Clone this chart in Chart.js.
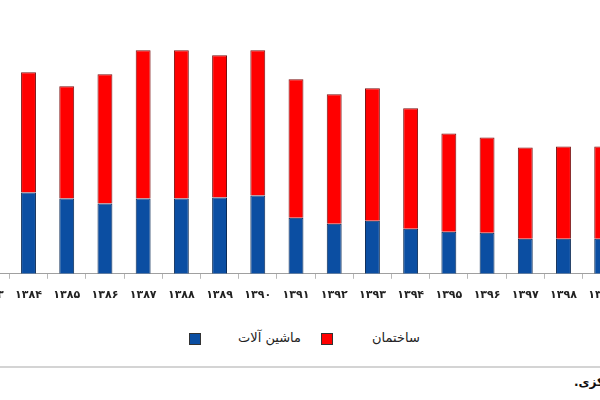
<!DOCTYPE html>
<html lang="fa">
<head>
<meta charset="utf-8">
<script src="https://cdn.jsdelivr.net/npm/chart.js@4"></script>
<style>
  html, body { margin: 0; padding: 0; background: #fff; }
  #wrap { position: relative; width: 600px; height: 400px; overflow: hidden; background: #fff; font-family: "DejaVu Sans", sans-serif; }
  #chartBox { position: absolute; left: -33px; top: 0; }
  .leyenda { position: absolute; top: 330px; font-size: 13px; color: #222; white-space: nowrap; }
  .caja { position: absolute; top: 333px; width: 10px; height: 10px; border: 1px solid #333; }
  #linea { position: absolute; left: 0; top: 366px; width: 600px; height: 2px; background: #d4d4d4; }
  #fuente { position: absolute; left: 574px; top: 375px; font-size: 12px; font-weight: bold; color: #111; white-space: nowrap; }
</style>
</head>
<body>
<div id="wrap">
  <div id="chartBox"><canvas id="chartBase" width="658" height="320"></canvas></div>

  <div class="caja" style="left:189px; background:#0b4ea2;"></div>
  <div class="leyenda" dir="rtl" style="left:238px;">ماشین آلات</div>
  <div class="caja" style="left:321px; background:#ff0000;"></div>
  <div class="leyenda" dir="rtl" style="left:372px;">ساختمان</div>

  <div id="linea"></div>
  <div id="fuente" dir="rtl">منبع: بانک مرکزی.</div>
</div>

<script>
// سال ها (بخش اول و آخر خارج از قاب تصویر است)
const anios = ["۱۳۸۳", "۱۳۸۴", "۱۳۸۵", "۱۳۸۶", "۱۳۸۷", "۱۳۸۸", "۱۳۸۹", "۱۳۹۰", "۱۳۹۱",
  "۱۳۹۲", "۱۳۹۳", "۱۳۹۴", "۱۳۹۵", "۱۳۹۶", "۱۳۹۷", "۱۳۹۸", "۱۳۹۹"];

// valores leidos a ojo del grafico (unidades relativas)
const maquinaria = [80, 81, 75, 70, 75, 75, 76, 78, 56, 50, 53, 45, 42, 41, 35, 35, 35];
const construccion = [112, 120, 112, 129, 148, 148, 142, 145, 138, 129, 132, 120, 98, 95, 91, 92, 92];

const yMax = 273;

let chartBase = null;

document.addEventListener("DOMContentLoaded", function () {
  pintarChart();
});

function pintarChart() {
  const canvas = document.getElementById("chartBase");
  if (!canvas) return;
  const ctx = canvas.getContext("2d");

  chartBase = new Chart(ctx, {
    type: "bar",
    data: {
      labels: anios,
      datasets: [
        {
          label: "ماشین آلات",
          data: maquinaria,
          backgroundColor: "#0b4ea2",
          borderColor: "#0a2a55",
          borderWidth: 1
        },
        {
          label: "ساختمان",
          data: construccion,
          backgroundColor: "#ff0000",
          borderColor: "#7a1010",
          borderWidth: 1
        }
      ]
    },
    options: {
      responsive: false,
      animation: false,
      layout: { padding: { left: 0, right: 0, top: 0, bottom: 8 } },
      datasets: { bar: { categoryPercentage: 1, barPercentage: 0.39 } },
      plugins: {
        legend: { display: false },
        tooltip: { enabled: false }
      },
      scales: {
        x: {
          stacked: true,
          grid: { offset: true, drawOnChartArea: false, tickLength: 5, color: "#b8b8b8" },
          border: { color: "#a0a0a0" },
          ticks: {
            color: "#222",
            padding: 10,
            font: { family: "DejaVu Sans", size: 11, weight: "bold" }
          }
        },
        y: {
          stacked: true,
          display: false,
          min: 0,
          max: yMax
        }
      }
    }
  });
}
</script>
</body>
</html>
